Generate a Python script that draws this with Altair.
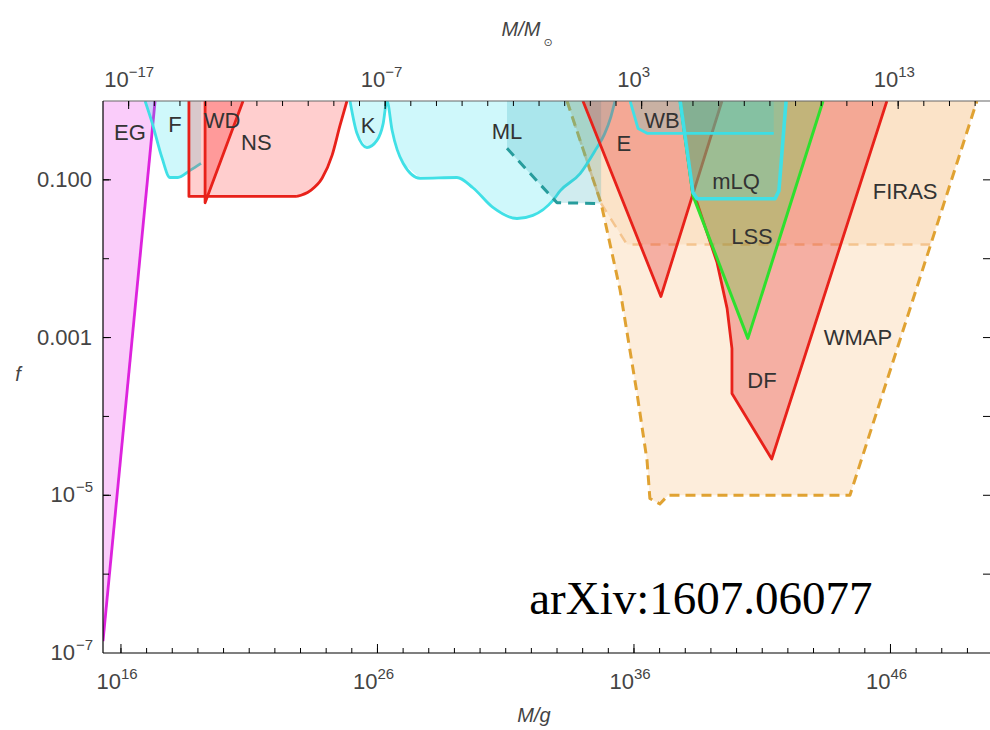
import altair as alt
import pandas as pd

# ---------------- axes ranges (log10 units) ----------------
LOG_MSUN = 33.30            # log10(M_sun / g)
X_MIN, X_MAX = 15.30, 49.88 # log10(M/g)
Y_MIN, Y_MAX = -7.0, 0.0    # log10(f)
W, H = 887, 552

# ---------------- constraint boundaries: x = log10(M/g), y = log10(f) ----------------
eg_x = [15.30, 17.33]
eg_y = [-6.85, 0.0]

f_x = [16.94, 17.21, 17.60, 17.91, 18.22, 18.69, 19.12]
f_y = [0.0, -0.27, -0.72, -0.97, -0.97, -0.88, -0.79]

ns_x = [18.65, 18.65, 22.86, 23.37, 23.84, 24.23, 24.54, 24.81]
ns_y = [0.0, -1.21, -1.21, -1.14, -0.98, -0.69, -0.31, 0.0]

wd_x = [19.28, 19.28, 20.76]
wd_y = [0.0, -1.29, 0.0]

ml_cyan_x = [24.93, 25.20, 25.59, 25.98, 26.22, 26.37, 26.57, 27.00, 27.66, 29.10, 29.72,
             30.50, 31.44, 32.06, 32.84, 33.12, 33.90, 34.50, 34.85, 35.10, 35.26]
ml_cyan_y = [0.0, -0.41, -0.59, -0.50, -0.29, 0.0, -0.37, -0.79, -0.98, -0.97, -1.10,
             -1.35, -1.49, -1.45, -1.26, -1.14, -0.92, -0.62, -0.42, -0.20, 0.0]

ml_x = [31.05, 33.00, 34.72]
ml_y = [-0.60, -1.29, -1.30]

firas_x = [33.39, 34.72, 35.73, 47.54, 49.37]
firas_y = [0.0, -1.30, -1.82, -1.82, 0.0]

wmap_x = [33.39, 34.72, 35.46, 36.12, 36.51, 36.62, 37.01, 37.33, 44.42, 49.37]
wmap_y = [0.0, -1.30, -2.40, -3.71, -4.56, -5.04, -5.11, -5.00, -5.00, 0.0]

e_x = [34.01, 37.05, 39.43]
e_y = [0.0, -2.48, 0.0]

df_x = [37.80, 38.30, 38.46, 39.24, 39.63, 39.82, 39.82, 41.37, 45.86]
df_y = [0.0, -1.20, -1.29, -2.05, -2.63, -3.14, -3.71, -4.54, 0.0]

lss_x = [37.80, 38.30, 40.44, 43.37]
lss_y = [0.0, -1.20, -3.01, 0.0]

mlq_x = [37.80, 38.30, 38.46, 41.50, 41.65, 41.93]
mlq_y = [0.0, -1.16, -1.24, -1.24, -1.14, 0.0]

wb_x = [35.85, 36.16, 36.51, 41.45]
wb_y = [0.0, -0.35, -0.41, -0.41]

# ---------------- labels ----------------
lab_t = ['EG', 'F', 'WD', 'NS', 'K', 'ML', 'E', 'WB', 'mLQ', 'FIRAS', 'LSS', 'WMAP', 'DF']
lab_x = [16.35, 18.11, 19.94, 21.28, 25.63, 31.05, 35.61, 37.09, 39.98, 46.57, 40.60, 44.73, 40.99]
lab_y = [-0.41, -0.31, -0.25, -0.53, -0.32, -0.39, -0.54, -0.25, -1.03, -1.16, -1.72, -3.01, -3.55]

note_t = ['arXiv:1607.06077']
note_x = [38.61]
note_y = [-6.50]

# ---------------- ticks ----------------
bottom_minor = list(range(16, 50))
bottom_major = [16, 26, 36, 46]
bottom_exp = ['16', '26', '36', '46']
top_minor = list(range(-17, 17))
top_major = [-17, -7, 3, 13]
top_exp = ['\u221217', '\u22127', '3', '13']
y_all = [-1, -2, -3, -4, -5, -6]
y_major = [-1, -3, -5]
y_plain_v = [-1, -3]
y_plain_t = ['0.100', '0.001']
y_pow_v = [-5, -7]
y_pow_e = ['\u22125', '\u22127']

FONT = 'Liberation Sans'
TC = '#444444'

XS = alt.Scale(domain=[X_MIN, X_MAX], nice=False, zero=False)
YS = alt.Scale(domain=[Y_MIN, Y_MAX], nice=False, zero=False)


def frame(xs, ys):
    return pd.DataFrame({'x': xs, 'y': ys, 'i': list(range(len(xs)))})


def enc_xy():
    return dict(x=alt.X('x:Q', scale=XS, axis=None), y=alt.Y('y:Q', scale=YS, axis=None))


def fill(xs, ys, color, op):
    # closed polygon: boundary plus the top edge (f = 1)
    px = list(xs) + [xs[-1], xs[0]]
    py = list(ys) + [Y_MAX, Y_MAX]
    return alt.Chart(frame(px, py)).mark_line(
        filled=True, fill=color, fillOpacity=op, strokeOpacity=0, strokeWidth=0, clip=True
    ).encode(order='i:Q', **enc_xy())


def outline(xs, ys, color, width, dash=None, interp='linear'):
    kw = dict(color=color, strokeWidth=width, clip=True, strokeJoin='round', interpolate=interp)
    if dash:
        kw['strokeDash'] = dash
    return alt.Chart(frame(xs, ys)).mark_line(**kw).encode(order='i:Q', **enc_xy())


RED = '#e8211a'
CYAN_L = '#40e0e6'
layers = []

layers += [fill(wmap_x, wmap_y, '#f5a040', 0.19), fill(firas_x, firas_y, '#f0a050', 0.13)]
layers += [outline(firas_x[:4], firas_y[:4], '#f4c48e', 2.5, [10, 8]),
           outline(wmap_x, wmap_y, '#e0a232', 3, [10, 6])]

layers += [fill([X_MIN, X_MIN] + eg_x, [Y_MAX, Y_MIN] + eg_y, '#f060f0', 0.32),
           outline(eg_x, eg_y, '#dd22dd', 2.8)]

layers += [fill(f_x, f_y, '#10dcea', 0.2), outline(f_x, f_y, CYAN_L, 2.8, interp='monotone')]
layers += [fill(ns_x, ns_y, '#ff2020', 0.22), outline(ns_x[:3], ns_y[:3], RED, 2.8),
           outline(ns_x[2:], ns_y[2:], RED, 2.8, interp='monotone')]
layers += [fill(wd_x, wd_y, '#ff2020', 0.3), outline(wd_x, wd_y, RED, 2.8)]
layers += [fill(ml_cyan_x, ml_cyan_y, '#10dcea', 0.2),
           outline(ml_cyan_x, ml_cyan_y, CYAN_L, 2.8, interp='monotone')]
layers += [fill(ml_x, ml_y, '#28a8b4', 0.22), outline(ml_x, ml_y, '#279c9c', 3, [10, 7])]
layers += [fill(e_x, e_y, '#e62020', 0.3), outline(e_x, e_y, RED, 2.8)]
layers += [fill(df_x, df_y, '#e62020', 0.3), outline(df_x, df_y, RED, 2.8)]
layers += [fill(lss_x, lss_y, '#50d23c', 0.3), outline(lss_x, lss_y, '#2ee02e', 3)]
layers += [fill(wb_x, wb_y, '#30d0d8', 0.22), outline(wb_x, wb_y, CYAN_L, 2.8)]
layers += [fill(mlq_x, mlq_y, '#30d8e0', 0.25), outline(mlq_x, mlq_y, CYAN_L, 3.6)]

# region labels
lab = pd.DataFrame({'x': lab_x, 'y': lab_y, 't': lab_t})
layers.append(alt.Chart(lab).mark_text(font=FONT, fontSize=22, color='#333333').encode(
    text='t:N', **enc_xy()))
note = pd.DataFrame({'x': note_x, 'y': note_y, 't': note_t})
layers.append(alt.Chart(note).mark_text(font='Liberation Serif', fontSize=47, color='black',
                                        baseline='alphabetic').encode(text='t:N', **enc_xy()))

# ---------------- frame and inward ticks ----------------
one = pd.DataFrame({'a': [0]})
layers.append(alt.Chart(one).mark_rule(color='#666666', strokeWidth=1.2).encode(
    x=alt.value(0), x2=alt.value(W), y=alt.value(0)))
layers.append(alt.Chart(one).mark_rule(color='black', strokeWidth=1.2).encode(
    x=alt.value(0), x2=alt.value(W), y=alt.value(H)))
layers.append(alt.Chart(one).mark_rule(color='black', strokeWidth=1.2).encode(
    x=alt.value(0), y=alt.value(0), y2=alt.value(H)))


def xticks(vals, y0, y1, calc=None):
    c = alt.Chart(pd.DataFrame({'v': vals}))
    c = c.transform_calculate(p=calc if calc else 'datum.v')
    return c.transform_filter(f'datum.p >= {X_MIN} && datum.p <= {X_MAX}').mark_rule(
        color='black', strokeWidth=1).encode(
        x=alt.X('p:Q', scale=XS, axis=None), y=alt.value(y0), y2=alt.value(y1))


layers.append(xticks(bottom_minor, H, H - 5))
layers.append(xticks(bottom_major, H, H - 9))
layers.append(xticks(top_minor, 0, 5, f'datum.v + {LOG_MSUN}'))
layers.append(xticks(top_major, 0, 8, f'datum.v + {LOG_MSUN}'))


def yticks(vals, x0, x1):
    return alt.Chart(pd.DataFrame({'v': vals})).mark_rule(color='black', strokeWidth=1).encode(
        y=alt.Y('v:Q', scale=YS, axis=None), x=alt.value(x0), x2=alt.value(x1))


layers.append(yticks(y_all, 0, 6))
layers.append(yticks(y_major, 0, 8))
layers.append(yticks(y_all, W - 7, W))


# ---------------- tick labels ----------------
def pow_labels_x(vals, exps, ybase, calc_pos=None):
    d = pd.DataFrame({'v': vals, 'e': exps})
    c = alt.Chart(d).transform_calculate(p=calc_pos if calc_pos else 'datum.v')
    c = c.transform_calculate(off='12.25 - length(datum.e) * 4.2')
    xe = alt.X('p:Q', scale=XS, axis=None)
    xo = alt.XOffset('off:Q', scale=None)
    base = c.mark_text(font=FONT, fontSize=22, color=TC, align='right', baseline='middle').encode(
        x=xe, xOffset=xo, y=alt.value(ybase), text=alt.value('10'))
    ex = c.mark_text(font=FONT, fontSize=15, color=TC, align='left', baseline='middle', dy=-8).encode(
        x=xe, xOffset=xo, y=alt.value(ybase), text='e:N')
    return [base, ex]


layers += pow_labels_x(bottom_major, bottom_exp, H + 29)
layers += pow_labels_x(top_major, top_exp, -21, f'datum.v + {LOG_MSUN}')

yp = pd.DataFrame({'v': y_plain_v, 't': y_plain_t})
layers.append(alt.Chart(yp).mark_text(font=FONT, fontSize=22, color=TC, align='right',
                                      baseline='middle').encode(
    y=alt.Y('v:Q', scale=YS, axis=None), x=alt.value(-11), text='t:N'))
ypw = pd.DataFrame({'v': y_pow_v, 'e': y_pow_e})
layers.append(alt.Chart(ypw).mark_text(font=FONT, fontSize=22, color=TC, align='right',
                                       baseline='middle').encode(
    y=alt.Y('v:Q', scale=YS, axis=None), x=alt.value(-28), text=alt.value('10')))
layers.append(alt.Chart(ypw).mark_text(font=FONT, fontSize=15, color=TC, align='left',
                                       baseline='middle', dy=-8).encode(
    y=alt.Y('v:Q', scale=YS, axis=None), x=alt.value(-27), text='e:N'))

# ---------------- axis titles ----------------
layers.append(alt.Chart(one).mark_text(font=FONT, fontSize=20, fontStyle='italic', color=TC).encode(
    x=alt.value(431), y=alt.value(615), text=alt.value('M/g')))
layers.append(alt.Chart(one).mark_text(font=FONT, fontSize=20, fontStyle='italic', color=TC).encode(
    x=alt.value(418), y=alt.value(-71), text=alt.value('M/M')))
layers.append(alt.Chart(one).mark_text(font='DejaVu Sans', fontSize=11, color=TC).encode(
    x=alt.value(445), y=alt.value(-58), text=alt.value('\u2299')))
layers.append(alt.Chart(one).mark_text(font=FONT, fontSize=20, fontStyle='italic', color=TC).encode(
    x=alt.value(-85), y=alt.value(274), text=alt.value('f')))

chart = alt.layer(*layers).properties(
    width=W, height=H,
    padding={'left': 103, 'top': 101, 'right': 0, 'bottom': 77},
    autosize=alt.AutoSizeParams(type='none'),
).configure_view(stroke=None)

chart.save('out.html', embed_options={'renderer': 'svg', 'actions': False})
